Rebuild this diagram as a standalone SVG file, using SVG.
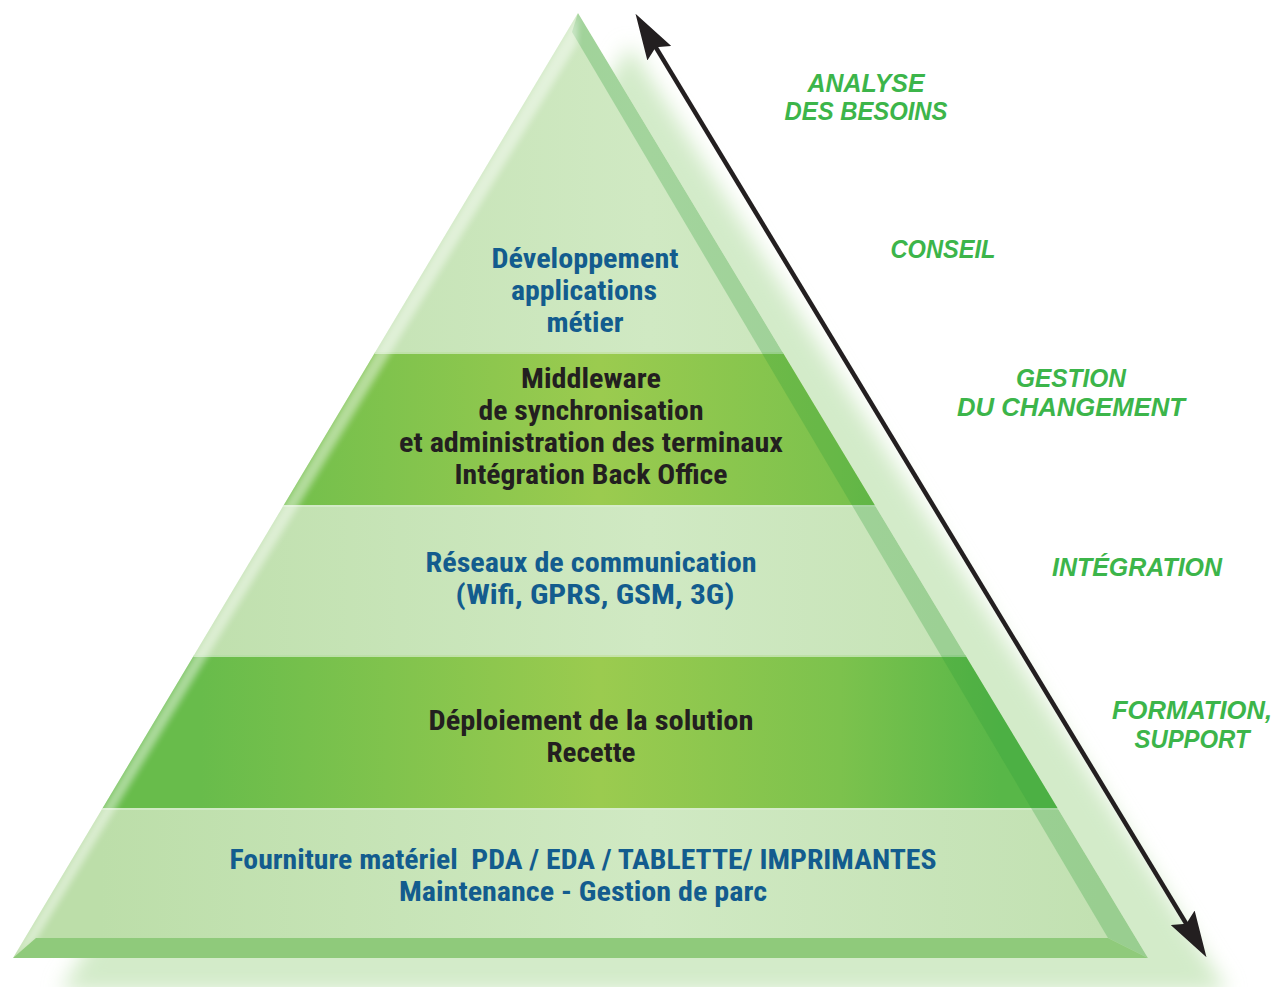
<svg xmlns="http://www.w3.org/2000/svg" width="1286" height="987" viewBox="0 0 1286 987">
<defs>
<style>
.pt{font-family:"Liberation Sans Narrow","Roboto Condensed","DejaVu Sans Condensed","Liberation Sans",sans-serif;font-stretch:condensed;font-weight:bold;font-size:28px;text-anchor:middle}
.blue{fill:#135c8e}
.dark{fill:#231f20}
.lab{font-family:"Liberation Sans",Arial,sans-serif;font-weight:bold;font-style:italic;font-size:25px;fill:#3cb54a;text-anchor:middle}
.sep{stroke:#d9eecf;stroke-width:2;opacity:0.7}
</style>
<clipPath id="tri"><polygon points="578,13 13,958 1148,958"/></clipPath>
<linearGradient id="bright" gradientUnits="userSpaceOnUse" x1="200" y1="0" x2="1000" y2="0">
<stop offset="0" stop-color="#68bc4b"/>
<stop offset="0.5" stop-color="#9bcb4f"/>
<stop offset="0.8" stop-color="#7cc24d"/>
<stop offset="1" stop-color="#58b748"/>
</linearGradient>
<linearGradient id="pale" gradientUnits="userSpaceOnUse" x1="100" y1="0" x2="1100" y2="0">
<stop offset="0" stop-color="#bcdea9"/>
<stop offset="0.55" stop-color="#d0e9c3"/>
<stop offset="1" stop-color="#c2e1b2"/>
</linearGradient>
<linearGradient id="bevel" gradientUnits="userSpaceOnUse" x1="0" y1="0" x2="30" y2="-18">
<stop offset="0" stop-color="#2f9e3a" stop-opacity="0.32"/>
<stop offset="1" stop-color="#2f9e3a" stop-opacity="0.18"/>
</linearGradient>
<filter id="blur" x="-20%" y="-20%" width="140%" height="140%"><feGaussianBlur stdDeviation="10"/></filter>
<filter id="soft"><feGaussianBlur stdDeviation="3"/></filter>
<marker id="ah" viewBox="0 0 46 28" refX="36" refY="14" markerWidth="46" markerHeight="28" markerUnits="userSpaceOnUse" orient="auto-start-reverse">
<path d="M0,0 L46,14 L0,28 L7,14 z" fill="#231f20"/>
</marker>
</defs>
<rect width="1286" height="987" fill="#ffffff"/>

<g id="shadow">
<polygon points="630,45 60,992 1228,992" fill="#d3ebc9" filter="url(#blur)"/>
</g>

<g id="pyramid" clip-path="url(#tri)">
<g id="band-developpement">
<rect x="0" y="0" width="1286" height="352" fill="url(#pale)"/>
</g>
<g id="band-middleware">
<rect x="0" y="352" width="1286" height="153" fill="url(#bright)"/>
</g>
<g id="band-reseaux">
<rect x="0" y="505" width="1286" height="150" fill="url(#pale)"/>
</g>
<g id="band-deploiement">
<rect x="0" y="655" width="1286" height="153" fill="url(#bright)"/>
</g>
<g id="band-fourniture">
<rect x="0" y="808" width="1286" height="150" fill="url(#pale)"/>
</g>
<line class="sep" x1="0" y1="353" x2="1286" y2="353"/>
<line class="sep" x1="0" y1="506" x2="1286" y2="506"/>
<line class="sep" x1="0" y1="656" x2="1286" y2="656"/>
<line class="sep" x1="0" y1="809" x2="1286" y2="809"/>
<polygon points="578,13 1148,958 1108,938 572,32" fill="#2f9e3a" opacity="0.28"/>
<polygon points="578,13 13,958 36,940 577,44" fill="#ffffff" opacity="0.45" filter="url(#soft)"/>
<polygon points="36,938 1108,938 1148,958 13,958" fill="#8fca7b"/>
</g>

<g id="texts-pyramid">
<g id="t-developpement">
<text class="pt blue" x="585" y="268" textLength="187" lengthAdjust="spacingAndGlyphs">Développement</text>
<text class="pt blue" x="584" y="300" textLength="146" lengthAdjust="spacingAndGlyphs">applications</text>
<text class="pt blue" x="585" y="332" textLength="77" lengthAdjust="spacingAndGlyphs">métier</text>
</g>
<g id="t-middleware">
<text class="pt dark" x="591" y="388" textLength="140" lengthAdjust="spacingAndGlyphs">Middleware</text>
<text class="pt dark" x="591" y="420" textLength="225" lengthAdjust="spacingAndGlyphs">de synchronisation</text>
<text class="pt dark" x="591" y="452" textLength="384" lengthAdjust="spacingAndGlyphs">et administration des terminaux</text>
<text class="pt dark" x="591" y="484" textLength="273" lengthAdjust="spacingAndGlyphs">Intégration Back Office</text>
</g>
<g id="t-reseaux">
<text class="pt blue" x="591" y="572" textLength="331" lengthAdjust="spacingAndGlyphs">Réseaux de communication</text>
<text class="pt blue" x="595" y="604" textLength="279" lengthAdjust="spacingAndGlyphs">(Wifi, GPRS, GSM, 3G)</text>
</g>
<g id="t-deploiement">
<text class="pt dark" x="591" y="730" textLength="325" lengthAdjust="spacingAndGlyphs">Déploiement de la solution</text>
<text class="pt dark" x="591" y="762" textLength="89" lengthAdjust="spacingAndGlyphs">Recette</text>
</g>
<g id="t-fourniture">
<text class="pt blue" x="583" y="869" textLength="707" lengthAdjust="spacingAndGlyphs" xml:space="preserve">Fourniture matériel  PDA / EDA / TABLETTE/ IMPRIMANTES</text>
<text class="pt blue" x="583" y="901" textLength="368" lengthAdjust="spacingAndGlyphs">Maintenance - Gestion de parc</text>
</g>
</g>

<g id="connectors">
<path d="M640.7,22.4 L1201.3,948.6" stroke="#231f20" stroke-width="4.5" fill="none" marker-start="url(#ah)" marker-end="url(#ah)"/>
</g>

<g id="labels">
<g id="l-analyse">
<text class="lab" x="866" y="92" textLength="117" lengthAdjust="spacingAndGlyphs">ANALYSE</text>
<text class="lab" x="866" y="120" textLength="163" lengthAdjust="spacingAndGlyphs">DES BESOINS</text>
</g>
<g id="l-conseil">
<text class="lab" x="943" y="258" textLength="105" lengthAdjust="spacingAndGlyphs">CONSEIL</text>
</g>
<g id="l-gestion">
<text class="lab" x="1071" y="387" textLength="110" lengthAdjust="spacingAndGlyphs">GESTION</text>
<text class="lab" x="1071" y="416" textLength="228" lengthAdjust="spacingAndGlyphs">DU CHANGEMENT</text>
</g>
<g id="l-integration">
<text class="lab" x="1137" y="576" textLength="170" lengthAdjust="spacingAndGlyphs">INTÉGRATION</text>
</g>
<g id="l-formation">
<text class="lab" x="1192" y="719" textLength="160" lengthAdjust="spacingAndGlyphs">FORMATION,</text>
<text class="lab" x="1192" y="748" textLength="115" lengthAdjust="spacingAndGlyphs">SUPPORT</text>
</g>
</g>
</svg>
